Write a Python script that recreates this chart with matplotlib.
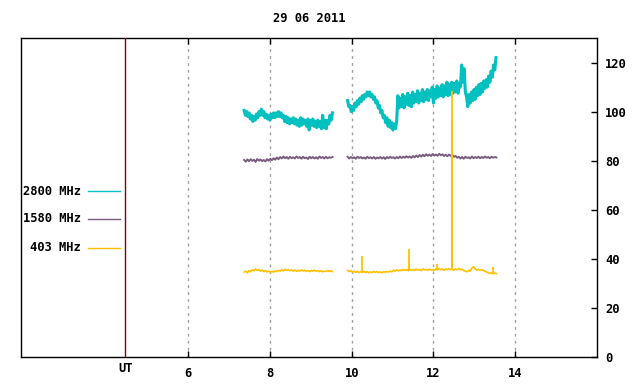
import numpy as np
import matplotlib
matplotlib.use("Agg")
import matplotlib.pyplot as plt
import matplotlib.transforms as mtransforms

title = "29 06 2011"
x_ticks = [6, 8, 10, 12, 14]
y_ticks = [0, 20, 40, 60, 80, 100, 120]
ut_hour = 4.46
series_names = ["2800 MHz", "1580 MHz", "403 MHz"]

# 2800 MHz, sampled every 0.03 h
c_start1, c_step = 7.37, 0.03
c_vals1 = [100.5, 98.5, 100.0, 98.0, 99.5, 97.0, 98.5, 96.0, 98.0, 96.5,
           99.0, 97.5, 100.0, 98.5, 101.0, 98.5, 100.0, 97.5, 99.0, 97.0,
           98.5, 96.5, 99.0, 97.5, 99.5, 97.5, 99.5, 98.0, 100.0, 98.0,
           99.5, 97.5, 98.5, 96.0, 98.0, 95.5, 97.5, 95.0, 97.0, 95.5,
           97.5, 95.0, 97.0, 94.5, 96.5, 94.0, 97.5, 94.5, 97.0, 95.0,
           96.5, 94.0, 97.0, 92.5, 96.5, 94.5, 97.0, 94.0, 96.0, 93.5,
           96.5, 94.0, 96.0, 93.0, 98.5, 93.5, 96.5, 93.0, 96.5, 95.0,
           98.5, 96.5, 99.5]
c_start2 = 9.90
c_vals2 = [104.5, 102.0, 102.5, 100.0, 102.0, 100.5, 103.5, 102.0, 104.5, 103.0,
           105.5, 104.0, 106.5, 105.0, 107.0, 106.0, 108.0, 106.5, 108.0, 106.0,
           107.0, 105.0, 106.0, 103.5, 104.5, 101.5, 102.5, 99.5, 100.5, 97.5,
           98.5, 95.5, 97.5, 94.0, 96.5, 93.5, 95.5, 92.5, 95.0, 93.0,
           96.0, 106.5, 101.5, 105.5, 102.0, 107.0, 101.5, 106.0, 103.0, 107.5,
           102.5, 106.5, 102.0, 108.0, 103.5, 107.0, 104.0, 108.5, 103.5, 107.5,
           104.5, 109.0, 104.0, 108.0, 105.0, 109.0, 104.5, 108.5, 106.0, 110.0,
           103.5, 109.0, 105.5, 110.5, 106.0, 109.5, 106.5, 111.0, 106.0, 110.5,
           107.0, 112.0, 106.5, 111.0, 107.0, 112.0, 107.5, 111.5, 108.0, 112.5,
           107.5, 111.5, 110.0, 119.0, 112.0, 117.5, 108.0, 106.0, 102.0, 107.0,
           103.5, 108.0, 104.5, 109.0, 105.0, 110.0, 106.5, 111.0, 107.0, 111.5,
           108.0, 112.5, 109.5, 113.0, 110.0, 114.5, 112.0, 116.5, 114.0, 119.0,
           117.0, 122.0]

# 1580 MHz and 403 MHz, sampled every 0.04 h
s_step = 0.04
s_start1, s_start2 = 7.37, 9.90
p_vals1 = [80.3, 79.6, 80.5, 79.8, 80.6, 79.9, 80.4, 79.5, 80.7, 80.0,
           80.5, 79.8, 80.3, 79.7, 80.6, 80.0, 80.8, 80.2, 81.0, 80.4,
           81.3, 80.6, 81.5, 80.9, 81.7, 81.0, 81.5, 80.8, 81.6, 81.0,
           81.4, 80.9, 81.7, 81.1, 81.5, 80.8, 81.6, 81.0, 81.3, 80.7,
           81.6, 81.0, 81.5, 80.9, 81.4, 80.8, 81.7, 81.1, 81.5, 80.9,
           81.6, 81.0, 81.4, 81.2, 81.5]
p_vals2 = [81.6, 80.9, 81.5, 81.0, 81.4, 80.8, 81.6, 81.1, 81.5, 80.9,
           81.3, 80.8, 81.6, 81.0, 81.4, 80.9, 81.5, 80.8, 81.3, 81.0,
           81.5, 80.9, 81.4, 80.7, 81.5, 81.0, 81.6, 81.1, 81.4, 80.9,
           81.5, 81.0, 81.7, 81.1, 81.6, 81.2, 81.8, 81.3, 81.7, 81.2,
           81.9, 81.4, 82.1, 81.5, 82.3, 81.7, 82.4, 81.8, 82.6, 82.0,
           82.5, 81.9, 82.7, 82.1, 82.5, 82.0, 82.8, 82.2, 82.6, 81.9,
           82.4, 81.8, 82.5, 82.0, 82.3, 81.6, 81.9, 81.2, 81.6, 80.9,
           81.5, 80.8, 81.6, 81.1, 81.4, 80.9, 81.7, 81.0, 81.5, 81.1,
           81.6, 81.0, 81.5, 81.1, 81.7, 81.2, 81.5, 81.0, 81.6, 81.2,
           81.5, 81.3]
o_vals1 = [34.6, 35.0, 34.3, 35.2, 34.8, 35.6, 35.1, 35.8, 35.3, 35.6,
           35.0, 35.4, 34.8, 35.2, 34.7, 35.0, 34.5, 34.9, 34.6, 35.1,
           34.8, 35.3, 35.0, 35.5, 35.1, 35.7, 35.3, 35.6, 35.2, 35.5,
           35.0, 35.4, 34.9, 35.3, 35.0, 35.5, 35.1, 35.4, 34.9, 35.2,
           34.8, 35.3, 35.0, 35.4, 34.9, 35.2, 34.8, 35.1, 34.7, 35.0,
           34.8, 35.2, 34.9, 35.1, 34.8]
o_vals2 = [35.3, 34.8, 35.2, 34.6, 35.0, 34.5, 34.9, 34.4, 34.8, 34.5,
           34.9, 34.4, 34.8, 34.3, 34.7, 34.4, 34.9, 34.5, 34.8, 34.4,
           34.7, 34.3, 34.8, 34.5, 34.9, 34.6, 35.0, 34.7, 35.3, 35.0,
           35.5, 35.1, 35.4, 35.2, 35.7, 35.3, 35.6, 35.2, 35.8, 35.4,
           35.7, 35.3, 35.8, 35.4, 35.6, 35.2, 35.9, 35.5, 35.7, 35.3,
           35.8, 35.4, 35.6, 35.3, 35.9, 35.5, 36.1, 35.6, 35.8, 35.4,
           35.9, 35.5, 36.0, 35.6, 35.8, 35.4, 35.9, 35.5, 36.1, 35.6,
           35.8, 35.2, 35.0, 34.7, 35.3, 35.0, 36.2, 36.8, 35.9, 35.4,
           35.7, 35.3, 35.6, 35.2, 35.0, 34.6, 34.4, 34.0, 34.3, 33.9,
           34.2, 34.0]

# short spikes
o_spike_t = [10.25, 11.39, 12.09, 12.445, 12.465, 13.45]
o_spike_base = [34.8, 35.3, 35.5, 35.8, 35.8, 34.3]
o_spike_peak = [41.0, 44.0, 38.0, 97.0, 108.5, 36.5]
p_spike_t = [12.46]
p_spike_base = [82.0]
p_spike_peak = [85.0]

col_c = "#00c0c0"
col_p = "#7a5c7e"
col_o = "#ffc000"

fig = plt.figure(figsize=(6.4, 3.84), dpi=100)
ax = fig.add_axes([20.5 / 640, 27 / 384, 576.5 / 640, 319 / 384])
ax.set_xlim(1.9, 16.0)
ax.set_ylim(0, 130)

font = dict(family="DejaVu Sans Mono", weight="bold", size=8.7)

def tarr(start, step, vals):
    return start + step * np.arange(len(vals))

ax.grid(axis="x", linestyle=(0, (2, 3)), color="#a0a0a0", lw=1)
ax.axvline(ut_hour, color="#8b0000", lw=1, zorder=3)

ax.plot(tarr(c_start1, c_step, c_vals1), c_vals1, color=col_c, lw=2.2, zorder=4)
ax.plot(tarr(c_start2, c_step, c_vals2), c_vals2, color=col_c, lw=2.2, zorder=4)
ax.plot(tarr(s_start1, s_step, p_vals1), p_vals1, color=col_p, lw=1.4, zorder=5)
ax.plot(tarr(s_start2, s_step, p_vals2), p_vals2, color=col_p, lw=1.4, zorder=5)
ax.vlines(p_spike_t, p_spike_base, p_spike_peak, color=col_p, lw=1.2, zorder=5)
ax.plot(tarr(s_start1, s_step, o_vals1), o_vals1, color=col_o, lw=1.2, zorder=6)
ax.plot(tarr(s_start2, s_step, o_vals2), o_vals2, color=col_o, lw=1.2, zorder=6)
ax.vlines(o_spike_t, o_spike_base, o_spike_peak, color=col_o, lw=1.3, zorder=6)

# axes styling
for s in ax.spines.values():
    s.set_linewidth(1)
    s.set_color("black")
ax.set_xticks(x_ticks)
ax.set_xticklabels([str(t) for t in x_ticks], **font)
ax.tick_params(axis="x", direction="in", top=True, bottom=True, length=4,
               width=1, pad=7)
ax.yaxis.tick_right()
ax.set_yticks(y_ticks)
ax.set_yticklabels([str(t) for t in y_ticks], **font)
ax.tick_params(axis="y", direction="in", left=False, right=True, length=4,
               width=1, pad=6)

trans = mtransforms.blended_transform_factory(ax.transData, ax.transAxes)
ax.text(ut_hour, -0.036, "UT", transform=trans, ha="center", va="center", **font)

# legend
leg_y = [0.520, 0.433, 0.342]
leg_cols = [col_c, col_p, col_o]
for name, yy, cc in zip(series_names, leg_y, leg_cols):
    ax.text(0.105, yy, name, transform=ax.transAxes, ha="right", va="center", **font)
    ax.plot([0.117, 0.1726], [yy, yy], transform=ax.transAxes, color=cc, lw=1)

fig.text(309 / 640, 1 - 18 / 384, title, ha="center", va="center", **font)

fig.savefig("out.png", dpi=100)
